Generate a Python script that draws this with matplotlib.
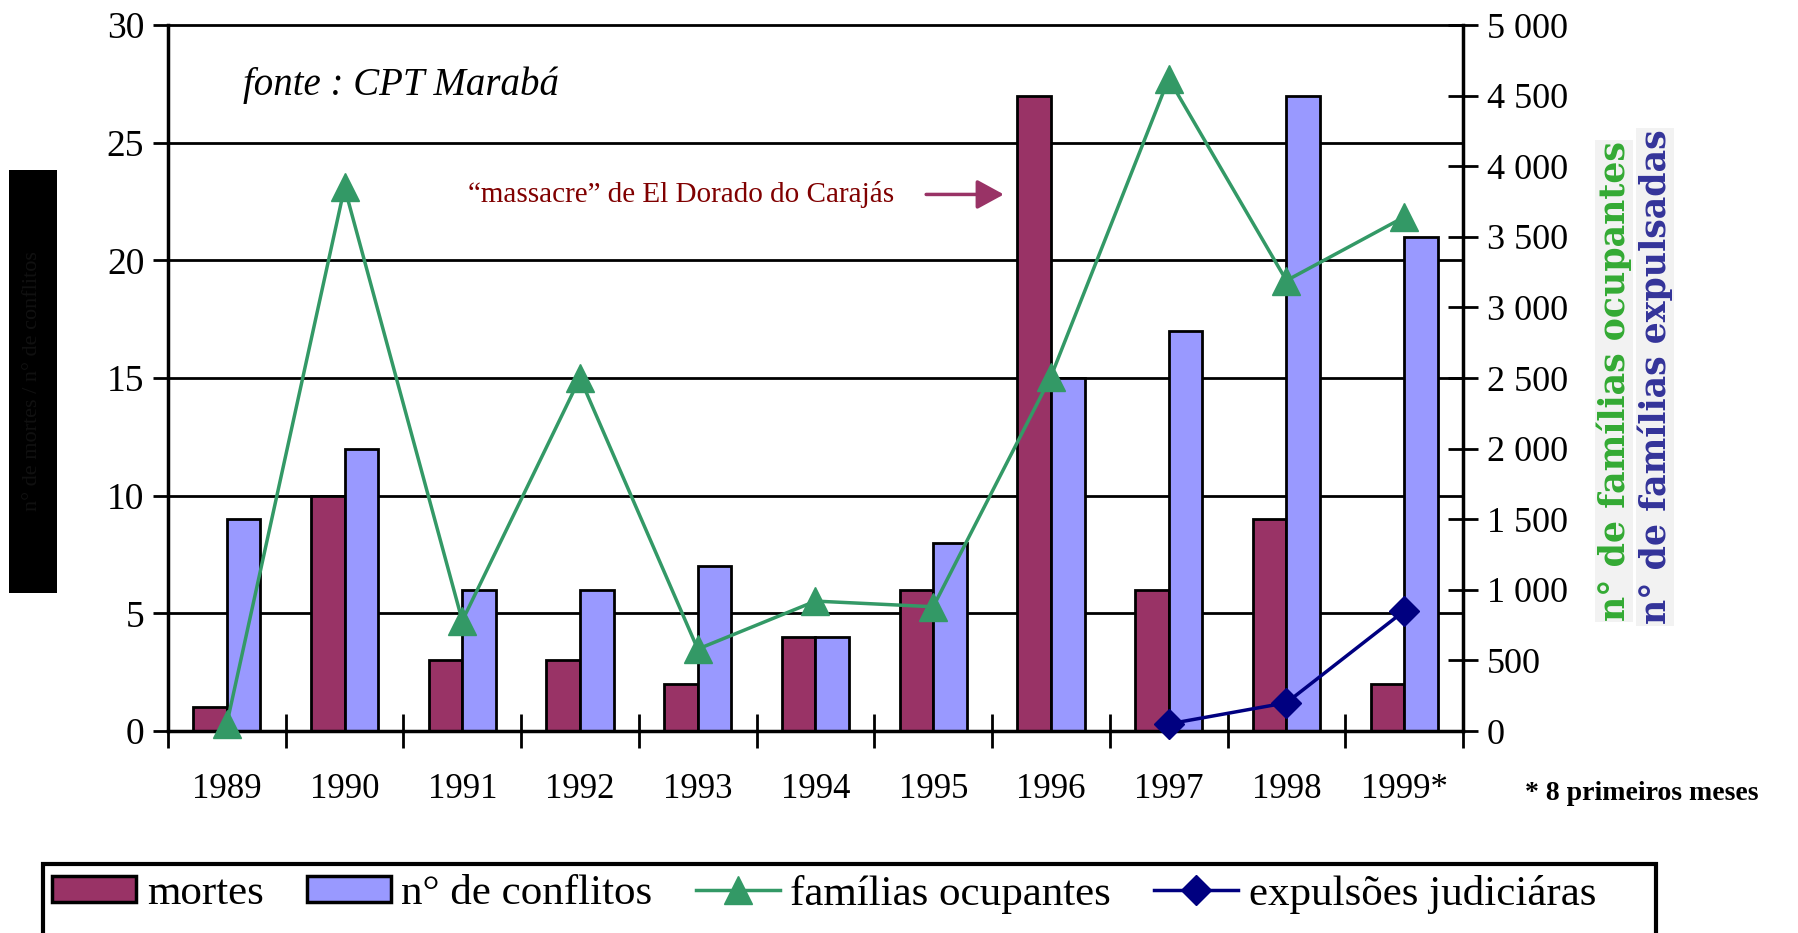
"""Conflitos fundiarios - sul do Para (1989-1999)."""

import matplotlib
matplotlib.use("Agg")
import matplotlib.pyplot as plt
import numpy as np
from matplotlib.lines import Line2D
from matplotlib.patches import Patch, Rectangle

plt.rcParams["font.family"] = ["Liberation Serif", "DejaVu Serif"]

years = ["1989", "1990", "1991", "1992", "1993", "1994", "1995",
         "1996", "1997", "1998", "1999*"]
mortes = [1, 10, 3, 3, 2, 4, 6, 27, 6, 9, 2]
conflitos = [9, 12, 6, 6, 7, 4, 8, 15, 17, 27, 21]
familias_ocupantes = [50, 3850, 780, 2500, 580, 920, 880, 2510, 4620, 3190, 3640]
expulsoes_years = ["1997", "1998", "1999*"]
expulsoes = [50, 200, 850]

C_MORTES = "#993366"
C_CONFL = "#9999ff"
C_OCUP = "#339966"
C_EXP = "#000080"

fig = plt.figure(figsize=(17.98, 9.33), dpi=100)
ax = fig.add_axes([0.0934, 0.2165, 0.7203, 0.7567])
ax2 = ax.twinx()

x = np.arange(len(years))
w = 0.285
ax.bar(x - w / 2, mortes, width=w, color=C_MORTES, edgecolor="black",
       linewidth=2, zorder=2)
ax.bar(x + w / 2, conflitos, width=w, color=C_CONFL, edgecolor="black",
       linewidth=2, zorder=2)

for v in range(5, 31, 5):
    ax.axhline(v, color="black", lw=2, zorder=1, clip_on=False)

ax.set_xlim(-0.5, len(years) - 0.5)
ax.set_ylim(0, 30)
ax.set_yticks(range(0, 31, 5))
ax.set_xticks(np.arange(-0.5, len(years), 1.0), minor=False)
ax.set_xticklabels([])
ax.set_xticks(x, minor=True)
ax.set_xticklabels(years, minor=True, fontsize=25)
ax.tick_params(axis="x", which="major", direction="inout", length=24,
               width=2)
ax.tick_params(axis="x", which="minor", length=0, pad=30)
ax.tick_params(axis="y", direction="out", length=11, width=2,
               labelsize=27, pad=6)
for s in ("top", "right"):
    ax.spines[s].set_visible(False)
ax.spines["left"].set_linewidth(2.5)
ax.spines["bottom"].set_linewidth(2.5)

xi = [years.index(y) for y in expulsoes_years]
ax2.plot(x, familias_ocupantes, color=C_OCUP, lw=2.5, marker="^",
         markersize=20, clip_on=False)
ax2.plot(xi, expulsoes, color=C_EXP, lw=2.5, marker="D", markersize=15,
         clip_on=False)
ax2.set_ylim(0, 5000)
ax2.set_yticks(range(0, 5001, 500))
ax2.set_yticklabels([f"{v:,}".replace(",", " ") for v in range(0, 5001, 500)])
ax2.tick_params(axis="y", direction="inout", length=22, width=2,
                labelsize=26, pad=6)
for s in ("top", "left", "bottom"):
    ax2.spines[s].set_visible(False)
ax2.spines["right"].set_linewidth(2.5)

ax.text(0.058, 0.914, "fonte : CPT Marabá", transform=ax.transAxes,
        fontsize=28, style="italic", va="center", ha="left")
ax.text(3.86, 22.8, "\u201cmassacre\u201d de El Dorado do Carajás",
        color="#800000", fontsize=21, ha="center", va="center")
ax.annotate("", xy=(6.6, 22.8), xytext=(5.94, 22.8),
            arrowprops=dict(arrowstyle="-|>,head_length=0.55,head_width=0.3",
                            color=C_MORTES, lw=2.5, mutation_scale=30,
                            shrinkA=0, shrinkB=0))

fig.text(1614 / 1798, 1 - 381 / 933, "n° de famílias ocupantes",
         rotation=90, color="#33aa33", fontsize=25, fontweight="bold",
         family="DejaVu Serif", ha="center", va="center",
         bbox=dict(facecolor="#f2f2f2", edgecolor="none", pad=1))
fig.text(1655 / 1798, 1 - 377 / 933, "n° de famílias expulsadas",
         rotation=90, color="#333399", fontsize=25, fontweight="bold",
         family="DejaVu Serif", ha="center", va="center",
         bbox=dict(facecolor="#f2f2f2", edgecolor="none", pad=1))

fig.text(1525 / 1798, 1 - 793 / 933, "* 8 primeiros meses", fontsize=20,
         fontweight="bold", ha="left", va="center")

# left axis title box (unreadable in the source)
fig.patches.append(Rectangle((9 / 1798, 1 - 593 / 933), 48 / 1798,
                             423 / 933, transform=fig.transFigure,
                             facecolor="black", edgecolor="none"))
fig.text(33 / 1798, 1 - 381 / 933, "n° de mortes / n° de conflitos",
         rotation=90, color="#111111", fontsize=16, ha="center",
         va="center")

# legend
fig.patches.append(Rectangle((43 / 1798, -0.05), 1613 / 1798,
                             0.05 + 1 - 864 / 933, transform=fig.transFigure,
                             facecolor="white", edgecolor="black",
                             linewidth=3))
handles = [
    Patch(facecolor=C_MORTES, edgecolor="black", linewidth=2.5),
    Patch(facecolor=C_CONFL, edgecolor="black", linewidth=2.5),
    Line2D([], [], color=C_OCUP, lw=2.5, marker="^", markersize=20),
    Line2D([], [], color=C_EXP, lw=2.5, marker="D", markersize=15),
]
labels = ["mortes", "n° de conflitos", "famílias ocupantes",
          "expulsões judiciáras"]
fig.legend(handles, labels, loc="center left",
           bbox_to_anchor=(35 / 1798, 1 - 894 / 933), ncol=4,
           frameon=False, fontsize=31, handlelength=1.95, handleheight=0.55,
           handletextpad=0.25, columnspacing=1.0, borderaxespad=0)

fig.savefig("out.png", dpi=100)
